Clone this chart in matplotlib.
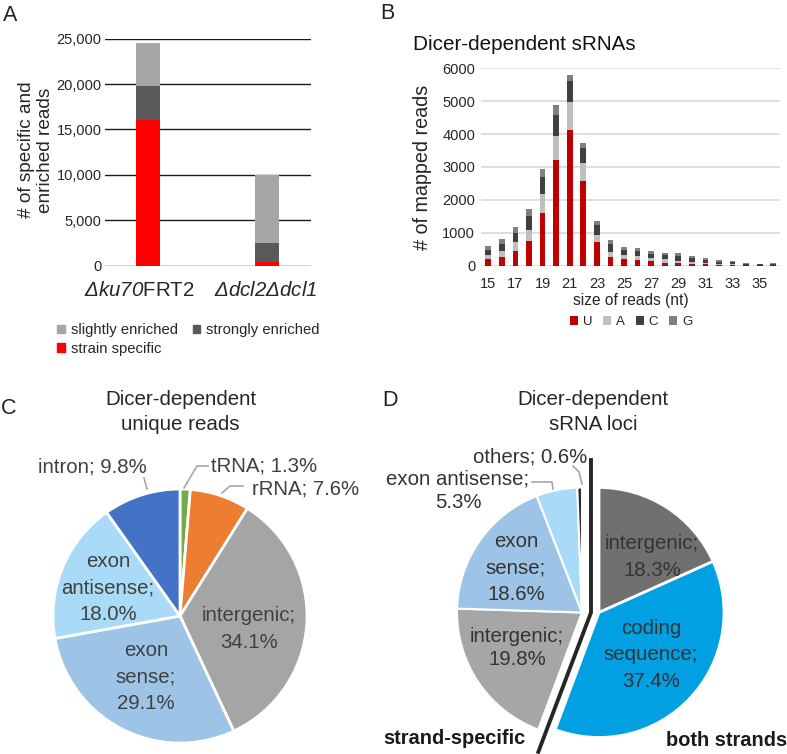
import matplotlib
matplotlib.use('Agg')
import matplotlib.pyplot as plt
from matplotlib.patches import Patch
from matplotlib.ticker import FuncFormatter
from matplotlib.transforms import ScaledTranslation
import numpy as np

plt.rcParams['font.family'] = 'Liberation Sans'
# mathtext is only used for the italic gene names, so both rm and it are italic
plt.rcParams['mathtext.fontset'] = 'custom'
plt.rcParams['mathtext.rm'] = 'Liberation Sans:italic'
plt.rcParams['mathtext.it'] = 'Liberation Sans:italic'

W, H = 787, 754

# A: specific and enriched reads per strain
strains = [r'$\mathit{Δku70}$FRT2', r'$\mathit{Δdcl2Δdcl1}$']
strain_specific = [16100, 450]
strongly_enriched = [3700, 2100]
slightly_enriched = [4700, 7450]

# B: read length distribution by first nucleotide
read_sizes = list(range(15, 37))
reads_U = [190, 270, 455, 740, 1605, 3200, 4130, 2580, 700, 265, 185, 165, 130, 90, 70, 50, 40, 30, 20, 5, 5, 5]
reads_A = [130, 175, 250, 340, 585, 730, 840, 530, 225, 135, 120, 120, 85, 95, 75, 50, 40, 30, 30, 10, 5, 10]
reads_C = [155, 205, 295, 435, 490, 640, 630, 450, 305, 250, 165, 155, 120, 130, 140, 115, 75, 60, 50, 35, 35, 40]
reads_G = [125, 150, 160, 200, 250, 300, 200, 170, 130, 125, 100, 90, 105, 80, 90, 70, 70, 45, 40, 15, 10, 15]

# C: unique reads by annotation
c_names = ['tRNA; ', 'rRNA; ', 'intergenic;\n', 'exon\nsense;\n', 'exon\nantisense;\n', 'intron; ']
c_values = [1.3, 7.6, 34.1, 29.1, 18.0, 9.8]

# D: sRNA loci, both strands / strand-specific
d_both_names = ['intergenic;\n', 'coding\nsequence;\n']
d_both_values = [18.3, 37.4]
d_ss_names = ['intergenic;\n', 'exon\nsense;\n', 'exon antisense;\n', 'others; ']
d_ss_values = [19.8, 18.6, 5.3, 0.6]

TXT = '#404040'
fig = plt.figure(figsize=(W / 100, H / 100), dpi=100)


def add_axes_px(x0, y0, x1, y1):
    return fig.add_axes([x0 / W, 1 - y1 / H, (x1 - x0) / W, (y1 - y0) / H])


def ftext(px, py, s, **kw):
    return fig.text(px / W, 1 - py / H, s, **kw)


# panel letters
for letter, (px, py) in zip('ABCD', [(3, 21), (380, 19), (1, 414), (382, 406)]):
    ftext(px, py, letter, fontsize=15.5, va='baseline', ha='left', color='#222222')

# ---------------- A
axA = add_axes_px(105, 38.7, 310.7, 265.7)
x = np.arange(len(strains))
base2 = np.add(strain_specific, strongly_enriched)
axA.bar(x, strain_specific, width=0.2, color='#ff0000', zorder=3)
axA.bar(x, strongly_enriched, bottom=strain_specific, width=0.2, color='#595959', zorder=3)
axA.bar(x, slightly_enriched, bottom=base2, width=0.2, color='#a6a6a6', zorder=3)
axA.set_xlim(-0.361, 1.367)
axA.set_ylim(0, 25000)
axA.set_yticks(np.arange(0, 25001, 5000))
axA.yaxis.set_major_formatter(FuncFormatter(lambda v, p: f'{int(v):,}'))
axA.yaxis.grid(True, color='#1a1a1a', lw=1.0)
axA.set_axisbelow(True)
for s in axA.spines.values():
    s.set_visible(False)
axA.tick_params(axis='y', length=0, pad=2.5, labelsize=10.5, labelcolor='#262626')
axA.set_xticks(x)
axA.set_xticklabels(strains, fontsize=14.8, color='#262626')
axA.tick_params(axis='x', length=0, pad=11)
xl = axA.get_xticklabels()
xl[0].set_transform(xl[0].get_transform() + ScaledTranslation(-0.09, 0, fig.dpi_scale_trans))
xl[1].set_transform(xl[1].get_transform() + ScaledTranslation(-0.01, 0, fig.dpi_scale_trans))
ftext(36, 150, '# of specific and\nenriched reads', rotation=90, ha='center', va='center',
      fontsize=13.7, color='#262626')
handles_A = [Patch(color='#a6a6a6', label='slightly enriched'),
             Patch(color='#ff0000', label='strain specific'),
             Patch(color='#595959', label='strongly enriched')]
fig.legend(handles=handles_A, ncol=2, loc='upper left', bbox_to_anchor=(50 / W, 1 - 316 / H),
           frameon=False, fontsize=10.7, handlelength=0.5, handleheight=0.5,
           handletextpad=0.4, columnspacing=1.0, labelspacing=0.3, borderpad=0,
           labelcolor='#262626')

# ---------------- B
axB = add_axes_px(480.7, 68.3, 780, 265.5)
bx = np.array(read_sizes)
bw = 0.42
bottom = np.zeros(len(bx))
for vals, col, lab in [(reads_U, '#c00000', 'U'), (reads_A, '#bfbfbf', 'A'),
                       (reads_C, '#404040', 'C'), (reads_G, '#808080', 'G')]:
    axB.bar(bx, vals, bottom=bottom, width=bw, color=col, label=lab, zorder=3)
    bottom = bottom + np.array(vals)
axB.set_xlim(14.44, 36.49)
axB.set_ylim(0, 6000)
axB.set_yticks(np.arange(0, 6001, 1000))
axB.set_xticks(read_sizes[::2])
axB.yaxis.grid(True, color='#d9d9d9', lw=1.2)
axB.set_axisbelow(True)
for s in axB.spines.values():
    s.set_visible(False)
axB.tick_params(axis='y', length=0, pad=4, labelsize=10.5, labelcolor='#262626')
axB.tick_params(axis='x', length=0, pad=8, labelsize=10.5, labelcolor='#262626')
axB.set_xlabel('size of reads (nt)', fontsize=11.2, color='#262626', labelpad=2)
ftext(413, 45, 'Dicer-dependent sRNAs', ha='left', va='center', fontsize=14.9, color='#111111')
ftext(422, 167, '# of mapped reads', rotation=90, ha='center', va='center',
      fontsize=14.2, color='#262626')
fig.legend(*axB.get_legend_handles_labels(), ncol=4, loc='center', bbox_to_anchor=(631 / W, 1 - 322 / H),
           frameon=False, fontsize=9.5, handlelength=0.6, handleheight=0.6,
           handletextpad=0.4, columnspacing=0.8, borderpad=0, labelcolor='#262626')


# ---------------- pies
def pie_axes(cx, cy, r, half=1.7):
    s = 2 * half * r
    ax = add_axes_px(cx - s / 2, cy - s / 2, cx + s / 2, cy + s / 2)
    return ax, half


def to_data(cx, cy, r, px, py):
    return (px - cx) / r, (cy - py) / r


# C
cx, cy, r = 180, 616, 127
axC, half = pie_axes(cx, cy, r)
c_colors = ['#70ad47', '#ed7d31', '#a5a5a5', '#9dc3e6', '#a9daf7', '#4472c4']
axC.pie(c_values, colors=c_colors, startangle=90, counterclock=False,
        wedgeprops=dict(edgecolor='white', linewidth=2))
axC.set_xlim(-half, half)
axC.set_ylim(-half, half)
axC.axis('off')
c_pos = [(264, 466), (306, 489), (249, 629), (146, 677), (108, 588), (92, 467)]
c_lead = [[(184, 488), (197, 466), (208, 466)],
          [(222, 493), (230, 486), (243, 486)],
          None, None, None,
          [(144, 478), (147, 489)]]
for name, v, pos, lead in zip(c_names, c_values, c_pos, c_lead):
    tx, ty = to_data(cx, cy, r, *pos)
    axC.text(tx, ty, f'{name}{v:.1f}%', ha='center', va='center', fontsize=14.7,
             color=TXT, linespacing=1.5, clip_on=False)
    if lead:
        pts = np.array([to_data(cx, cy, r, *p) for p in lead])
        axC.plot(pts[:, 0], pts[:, 1], color='#a6a6a6', lw=1.2, clip_on=False)
ftext(180.5, 412, 'Dicer-dependent\nunique reads', ha='center', va='center',
      fontsize=14.8, color='#262626', linespacing=1.4)

# D
cx, cy, r = 590.5, 612.5, 125
axD, half = pie_axes(cx, cy, r)
shift = 8.5 / r
both_frac = [v / 100 for v in d_both_values]
ss_frac = [v / 100 for v in d_ss_values]
axD.pie(both_frac, colors=['#707070', '#00a0e3'], startangle=90, counterclock=False,
        normalize=False, center=(shift, 0), wedgeprops=dict(edgecolor='white', linewidth=2))
split_angle = 90 - 360 * sum(both_frac)
axD.pie(ss_frac, colors=['#a6a6a6', '#9dc3e6', '#a9daf7', '#262626'], startangle=split_angle,
        counterclock=False, normalize=False, center=(-shift, 0),
        wedgeprops=dict(edgecolor='white', linewidth=1.5))
axD.set_xlim(-half, half)
axD.set_ylim(-half, half)
axD.axis('off')
th = np.deg2rad(split_angle)
axD.plot([0.004, 0.004, 1.19 * np.cos(th)], [1.22, 0, 1.19 * np.sin(th)],
         color='#262626', lw=2.8, solid_joinstyle='miter', clip_on=False)

d_both_pos = [(652, 557), (651, 655)]
for name, v, pos in zip(d_both_names, d_both_values, d_both_pos):
    tx, ty = to_data(cx, cy, r, *pos)
    axD.text(tx, ty, f'{name}{v:.1f}%', ha='center', va='center', fontsize=14.7,
             color='#333333', linespacing=1.5, clip_on=False)
d_ss_pos = [(517, 648), (516, 568), (458, 491), (530, 457)]
d_lead = [None, None,
          [(532, 482), (552, 482), (553, 489)],
          [(573, 466), (579, 472), (582, 484)]]
for name, v, pos, lead in zip(d_ss_names, d_ss_values, d_ss_pos, d_lead):
    tx, ty = to_data(cx, cy, r, *pos)
    axD.text(tx, ty, f'{name}{v:.1f}%', ha='center', va='center', fontsize=14.7,
             color='#333333', linespacing=1.5 if name.count('\n') > 1 else 1.3,
             clip_on=False)
    if lead:
        pts = np.array([to_data(cx, cy, r, *p) for p in lead])
        axD.plot(pts[:, 0], pts[:, 1], color='#a6a6a6', lw=1.2, clip_on=False)
ftext(593, 412, 'Dicer-dependent\nsRNA loci', ha='center', va='center',
      fontsize=14.8, color='#262626', linespacing=1.4)
ftext(454, 738, 'strand-specific', ha='center', va='center', fontsize=14.4,
      fontweight='bold', color='#1a1a1a')
ftext(727, 740, 'both strands', ha='center', va='center', fontsize=14.4,
      fontweight='bold', color='#1a1a1a')

fig.savefig('out.png', dpi=100)
